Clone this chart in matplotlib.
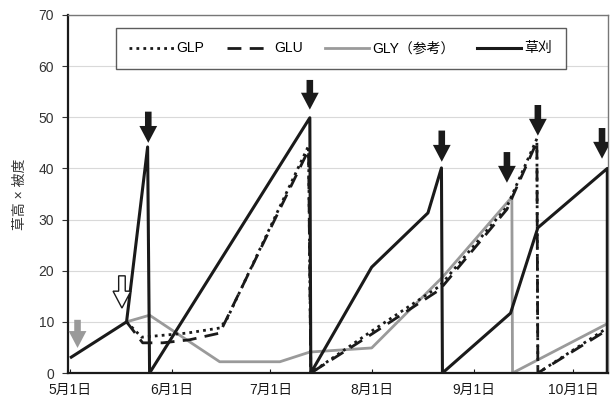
import matplotlib
matplotlib.use("Agg")
import matplotlib.pyplot as plt
from matplotlib.lines import Line2D

plt.rcParams['font.family'] = ['Liberation Sans', 'Noto Sans CJK JP', 'DejaVu Sans']

# x values: days after May 1
tick_days = [0, 31, 61, 92, 123, 153]
tick_labels = ['5月1日', '6月1日', '7月1日', '8月1日', '9月1日', '10月1日']

mow_days = [0.5, 17.3, 23.7, 24.3, 73.0, 73.3, 91.8, 108.9, 113.0, 113.3, 134.0, 142.3, 163.4, 163.4]
mow_vals = [3.1, 10.0, 44.2, 0.0, 49.9, 0.0, 20.7, 31.3, 40.1, 0.0, 11.7, 28.4, 40.0, 0.0]

glp_days = [17.3, 21.9, 35.6, 45.6, 47.7, 72.6, 73.3, 91.8, 112.5, 132.9, 142.0, 142.3, 163.6]
glp_vals = [10.0, 7.0, 7.8, 8.8, 10.4, 44.4, 0.0, 8.2, 17.0, 32.5, 45.8, 0.0, 8.9]

glu_days = [17.3, 22.2, 28.3, 36.5, 45.6, 72.6, 73.3, 91.8, 112.5, 132.9, 142.0, 142.3, 163.6]
glu_vals = [10.0, 5.9, 5.9, 6.5, 7.8, 43.6, 0.0, 7.6, 16.3, 32.0, 45.2, 0.0, 8.5]

gly_days = [17.3, 24.3, 45.6, 63.9, 73.0, 91.8, 113.4, 134.4, 134.6, 162.7, 163.6]
gly_vals = [10.0, 11.3, 2.2, 2.2, 4.1, 4.9, 18.8, 34.4, 0.0, 9.4, 9.7]

# mowing arrows (black), herbicide arrow (white), reference arrow (gray)
arrow_days = [23.9, 73.0, 113.1, 132.9, 142.3, 161.8]
arrow_tails = [51.1, 57.3, 47.4, 43.2, 52.4, 47.9]
arrow_tips = [45.0, 51.5, 41.3, 37.2, 46.4, 41.9]
white_arrow = (15.9, 19.0, 12.7)
gray_arrow = (2.4, 10.4, 4.9)

fig = plt.figure(figsize=(6.11, 4.05), dpi=100)
ax = fig.add_axes([0.111, 0.079, 0.884, 0.884])

black = '#1a1a1a'
gray = '#9a9a9a'

ax.plot(gly_days, gly_vals, color=gray, lw=2.0, zorder=2)
ax.plot(glu_days, glu_vals, color=black, lw=2.0, ls=(0, (5, 3)), zorder=3)
ax.plot(glp_days, glp_vals, color=black, lw=2.0, ls=(0, (1, 1.5)), zorder=3)
ax.plot(mow_days, mow_vals, color=black, lw=2.2, zorder=4)

def draw_arrow(x, tail, tip, fc, ec, lw=0):
    ax.arrow(x, tail, 0, tip - tail, width=2.0, head_width=5.4, head_length=3.3,
             length_includes_head=True, fc=fc, ec=ec, lw=lw, zorder=6)

for d, t0, t1 in zip(arrow_days, arrow_tails, arrow_tips):
    draw_arrow(d, t0, t1, black, black)
draw_arrow(white_arrow[0], white_arrow[1], white_arrow[2], 'white', black, lw=1.0)
draw_arrow(gray_arrow[0], gray_arrow[1], gray_arrow[2], gray, gray)

ax.set_xlim(-0.55, 163.6)
ax.set_ylim(0, 70)
ax.set_yticks(range(0, 71, 10))
ax.set_xticks(tick_days)
ax.set_xticklabels(tick_labels)
ax.tick_params(axis='x', direction='in', length=3, pad=7, labelsize=10, colors=black)
ax.tick_params(axis='y', direction='out', length=4, pad=6, labelsize=10, colors='#333333')
ax.yaxis.grid(True, color='#d9d9d9', lw=0.8)
ax.set_axisbelow(True)
for s in ['left', 'bottom']:
    ax.spines[s].set_color(black)
    ax.spines[s].set_linewidth(1.6)
for s in ['top', 'right']:
    ax.spines[s].set_color('#777777')
    ax.spines[s].set_linewidth(1.0)

ax.set_ylabel('草高 × 被度', fontsize=10, labelpad=8, color='#333333')

handles = [
    Line2D([], [], color=black, lw=2.0, ls=(0, (1, 1.5))),
    Line2D([], [], color=black, lw=2.0, ls=(0, (5, 3))),
    Line2D([], [], color=gray, lw=2.0),
    Line2D([], [], color=black, lw=2.2),
]
leg = ax.legend(handles, ['GLP', 'GLU', 'GLY（参考）', '草刈'], ncol=4, loc='upper center',
                bbox_to_anchor=(0.505, 0.965), fontsize=10, frameon=True, fancybox=False,
                edgecolor='#333333', handlelength=3.2, handletextpad=0.2,
                columnspacing=1.6, borderpad=1.0, borderaxespad=0)
leg.get_frame().set_linewidth(1.0)

fig.savefig('out.png', dpi=100)
